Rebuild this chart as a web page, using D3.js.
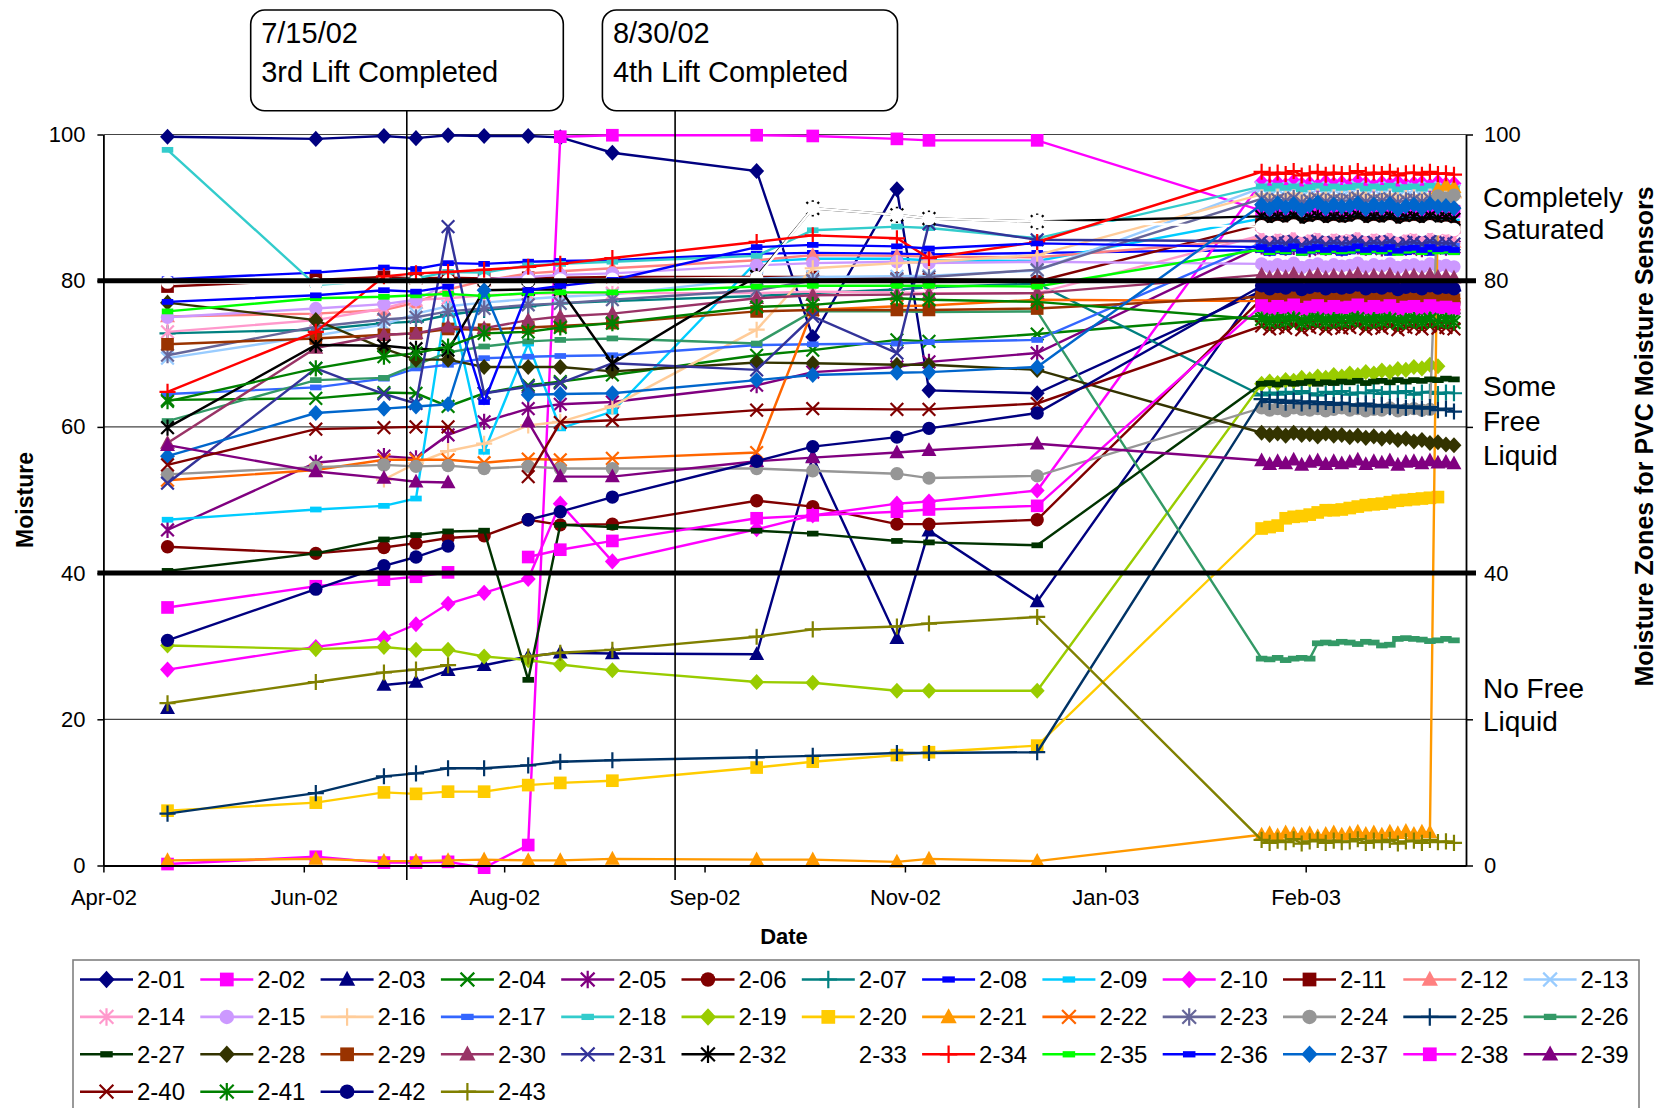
<!DOCTYPE html>
<html>
<head>
<meta charset="utf-8">
<script src="https://cdn.jsdelivr.net/npm/d3@7/dist/d3.min.js"></script>
<style>
  body { margin: 0; background: #fff; }
  text { font-family: "Liberation Sans", Arial, sans-serif; }
</style>
</head>
<body>
<svg id="chart" width="1657" height="1108"></svg>
<script>
// reading dates, 2002
var dates = ["2002-05-14","2002-06-20","2002-07-07","2002-07-15","2002-07-23","2002-08-01","2002-08-12",
             "2002-08-20","2002-09-02","2002-10-08","2002-10-22","2002-11-12","2002-11-20","2002-12-17"];
// logger readings, early 2003
var denseDates = ["2003-02-11","2003-02-13","2003-02-15","2003-02-17","2003-02-19","2003-02-21","2003-02-23",
                  "2003-02-25","2003-02-27","2003-03-01","2003-03-03","2003-03-05","2003-03-07","2003-03-09",
                  "2003-03-11","2003-03-13","2003-03-15","2003-03-17","2003-03-19","2003-03-21","2003-03-23",
                  "2003-03-25","2003-03-27","2003-03-29","2003-03-31"];

var sensors = ["2-01","2-02","2-03","2-04","2-05","2-06","2-07","2-08","2-09","2-10","2-11","2-12","2-13",
               "2-14","2-15","2-16","2-17","2-18","2-19","2-20","2-21","2-22","2-23","2-24","2-25","2-26",
               "2-27","2-28","2-29","2-30","2-31","2-32","2-33","2-34","2-35","2-36","2-37","2-38","2-39",
               "2-40","2-41","2-42","2-43"];

var early = [
  [99.7,99.4,99.8,99.5,99.9,99.8,99.8,99.6,97.5,95.0,72.3,92.5,65.0,64.6],
  [0.2,1.2,0.4,0.4,0.5,-0.3,2.8,99.7,99.9,99.9,99.8,99.4,99.2,99.2],
  [21.5,null,24.7,25.1,26.7,27.4,28.6,29.1,29.0,28.9,55.9,31.1,45.8,36.1],
  [63.7,63.9,64.7,64.6,62.8,64.6,65.7,66.2,67.1,69.8,70.5,71.9,71.7,72.7],
  [45.9,55.1,56.0,55.7,58.9,60.7,62.5,63.1,63.4,65.7,67.5,68.2,68.9,70.1],
  [43.6,42.7,43.5,44.1,44.8,45.1,47.3,46.6,46.7,49.9,49.1,46.7,46.7,47.3],
  [72.8,73.3,74.2,74.4,75.3,76.0,76.5,76.9,77.2,77.9,78.3,78.8,79.1,79.6],
  [80.2,81.1,81.8,81.6,82.4,82.3,82.6,82.7,82.8,83.7,83.8,83.7,83.6,83.8],
  [47.3,48.7,49.2,50.2,78.5,56.6,71.4,59.8,62.1,82.6,83.0,83.0,82.8,82.7],
  [26.8,29.9,31.1,33.0,35.8,37.3,39.2,49.5,41.6,46.0,47.9,49.5,49.8,51.3],
  [79.2,80.1,80.5,80.3,80.4,80.3,80.4,80.4,80.5,80.5,80.5,80.3,80.2,79.9],
  [75.1,75.5,76.0,77.0,78.8,80.0,81.0,81.3,81.7,82.8,83.5,83.4,83.3,83.2],
  [69.4,72.5,74.0,75.5,76.5,77.0,77.5,77.8,78.1,80.3,80.5,80.6,80.7,81.4],
  [73.0,74.6,76.2,77.4,77.6,78.0,78.2,78.3,78.3,78.3,78.5,78.4,78.3,78.3],
  [75.0,76.2,76.8,77.4,79.6,80.2,80.5,80.8,81.0,82.1,82.4,82.6,82.4,82.6],
  [null,null,52.8,55.0,56.7,57.7,60.2,60.7,62.8,73.3,81.7,82.4,82.6,83.5],
  [64.5,65.4,66.6,68.0,68.5,69.4,69.6,69.7,69.8,71.2,71.3,71.4,71.6,71.9],
  [97.9,79.4,80.1,80.3,81.2,81.1,82.1,82.3,82.6,83.4,86.9,87.4,87.2,85.8],
  [30.1,29.6,29.9,29.5,29.5,28.6,28.1,27.5,26.7,25.1,25.0,23.9,23.9,23.9],
  [7.5,8.6,10.0,9.8,10.1,10.1,11.0,11.3,11.6,13.4,14.2,15.1,15.5,16.4],
  [0.7,0.9,0.6,0.6,0.7,0.8,0.7,0.7,0.9,0.8,0.8,0.5,0.9,0.6],
  [52.7,54.1,55.5,55.5,55.5,55.1,55.6,55.5,55.7,56.5,76.0,76.5,76.6,77.4],
  [69.8,73.7,74.7,75.0,75.8,76.2,76.7,76.9,77.4,78.7,80.0,80.2,80.5,81.5],
  [53.5,54.5,54.8,54.6,54.7,54.3,54.6,54.3,54.3,54.3,54.0,53.6,53.0,53.3],
  [7.1,9.9,12.2,12.6,13.3,13.3,13.7,14.2,14.4,14.8,15.0,15.4,15.4,15.5],
  [60.8,66.4,66.7,68.5,70.2,71.0,71.7,71.9,72.1,71.4,75.8,75.8,75.7,75.8],
  [40.3,42.7,44.6,45.2,45.7,45.8,25.4,46.6,46.3,45.8,45.4,44.4,44.2,43.8],
  [77.0,74.6,70.7,69.2,69.2,68.2,68.2,68.2,67.6,68.8,68.7,68.5,68.5,67.8],
  [71.3,72.1,72.6,72.8,73.4,73.3,73.6,73.8,74.2,75.8,76.0,76.0,76.0,76.2],
  [57.8,70.8,72.6,72.8,73.7,73.5,74.6,75.1,75.5,77.6,78.0,78.1,78.2,78.3],
  [52.3,68.0,64.5,63.2,87.4,64.6,65.5,66.0,68.7,67.8,75.1,70.1,87.8,85.6],
  [59.9,71.2,71.1,70.7,70.5,78.7,78.8,78.8,68.7,80.6,89.9,89.0,88.5,88.1],
  [79.8,79.6,79.8,79.9,80.0,80.0,80.0,80.1,80.2,80.4,89.9,89.0,88.5,88.1],
  [64.8,73.0,80.6,81.0,81.2,81.5,81.9,82.3,83.1,85.3,86.2,85.8,83.1,85.3],
  [75.8,77.6,77.8,78.0,78.2,77.9,78.3,78.4,78.4,79.2,79.3,79.3,79.3,79.2],
  [77.1,78.0,78.7,78.5,79.2,63.4,78.7,79.3,80.1,84.6,84.9,84.7,84.4,85.1],
  [56.0,61.9,62.5,62.8,63.1,78.7,64.4,64.5,64.6,66.4,67.1,67.4,67.5,68.2],
  [35.3,38.2,39.1,39.5,40.1,null,42.2,43.2,44.4,47.5,47.9,48.4,48.7,49.2],
  [57.5,53.9,53.0,52.5,52.4,null,60.7,53.2,53.2,55.3,55.8,56.5,56.8,57.7],
  [54.8,59.7,59.9,60.0,60.0,null,53.2,60.6,60.9,62.3,62.5,62.4,62.4,63.2],
  [63.5,68.0,69.6,70.1,71.0,72.8,73.0,73.6,74.2,76.4,76.7,77.6,77.4,77.1],
  [30.8,37.8,41.0,42.2,43.7,null,47.3,48.4,50.4,55.3,57.3,58.6,59.8,61.9],
  [22.2,25.1,26.4,26.8,27.4,null,28.6,29.1,29.5,31.3,32.3,32.7,33.1,34.0]
];

var late = [
  [78.6,78.9,78.7,79.0,78.8,78.5,78.9,79.1,78.7,78.8,79.0,78.6,78.9,78.8,79.1,78.7,78.9,78.6,79.0,78.8,78.7,79.0,78.9,78.8,78.7],
  [89.6,89.4,89.7,89.3,89.5,89.8,89.4,89.6,89.3,89.5,89.7,89.4,89.6,89.5,89.3,89.7,89.4,89.6,89.5,89.8,89.4,89.5,89.6,89.3,89.5],
  [79.4,79.1,79.3,79.5,79.2,79.4,79.0,79.3,79.5,79.2,79.4,79.1,79.3,79.5,79.2,79.3,79.0,79.4,79.2,79.5,79.3,79.1,79.4,79.2,79.3],
  [75.2,74.8,75.1,74.9,75.3,74.7,75.0,75.2,74.8,75.1,74.9,75.0,75.3,74.8,75.1,74.9,75.2,74.7,75.0,75.1,74.8,75.2,74.9,75.0,74.8],
  [84.7,84.4,84.8,84.5,84.6,84.9,84.3,84.7,84.5,84.8,84.4,84.6,84.7,84.5,84.9,84.4,84.6,84.8,84.5,84.7,84.3,84.6,84.8,84.5,84.6],
  [77.5,77.1,77.4,77.2,77.6,77.0,77.3,77.5,77.1,77.4,77.2,77.3,77.6,77.1,77.4,77.2,77.5,77.0,77.3,77.4,77.1,77.5,77.2,77.3,77.1],
  [64.3,64.7,64.4,64.8,64.5,64.9,64.6,64.3,64.8,64.5,64.9,64.4,64.7,64.6,65.0,64.5,64.8,64.6,64.9,64.4,64.7,64.8,64.5,64.7,64.6],
  [84.2,83.8,84.1,83.9,84.3,83.8,84.0,84.2,83.9,84.1,83.8,84.0,84.2,83.9,84.1,84.0,83.8,84.2,83.9,84.1,84.0,83.8,84.2,84.0,83.9],
  [88.5,88.1,88.4,88.2,88.6,88.0,88.3,88.5,88.1,88.4,88.2,88.3,88.6,88.1,88.4,88.2,88.5,88.0,88.3,88.4,88.1,88.5,88.2,88.3,88.1],
  [93.5,93.0,93.4,93.1,93.6,93.2,93.3,93.0,93.5,93.2,93.4,93.1,93.6,93.3,93.0,93.4,93.2,93.5,93.1,93.3,93.4,93.0,93.5,93.2,93.3],
  [87.7,87.3,87.6,87.4,87.8,87.2,87.5,87.7,87.3,87.6,87.4,87.5,87.8,87.3,87.6,87.4,87.7,87.2,87.5,87.6,87.3,87.7,87.4,87.5,87.3],
  [85.7,85.3,85.6,85.4,85.8,85.2,85.5,85.7,85.3,85.6,85.4,85.5,85.8,85.3,85.6,85.4,85.7,85.2,85.5,85.6,85.3,85.7,85.4,85.5,85.3],
  [92.7,92.2,92.6,92.3,92.8,92.1,92.5,92.7,92.3,92.6,92.2,92.5,92.8,92.3,92.6,92.4,92.7,92.2,92.5,92.6,92.3,92.7,92.4,92.5,92.3],
  [86.2,85.8,86.1,85.9,86.3,85.7,86.0,86.2,85.8,86.1,85.9,86.0,86.3,85.8,86.1,85.9,86.2,85.7,86.0,86.1,85.8,86.2,85.9,86.0,85.8],
  [82.3,81.9,82.2,82.0,82.4,81.8,82.1,82.3,81.9,82.2,82.0,82.1,82.4,81.9,82.2,82.0,82.3,81.8,82.1,82.2,81.9,82.3,82.0,82.1,81.9],
  [91.8,91.4,91.7,91.5,91.9,91.3,91.6,91.8,91.4,91.7,91.5,91.6,91.9,91.4,91.7,91.5,91.8,91.3,91.6,91.7,91.4,91.8,91.5,91.6,91.4],
  [85.2,84.8,85.1,84.9,85.3,84.7,85.0,85.2,84.8,85.1,84.9,85.0,85.3,84.8,85.1,84.9,85.2,84.7,85.0,85.1,84.8,85.2,84.9,85.0,84.8],
  [92.9,92.6,93.0,92.7,92.9,92.5,92.8,93.0,92.6,92.9,92.7,92.8,93.0,92.6,92.9,92.7,93.0,92.5,92.8,92.9,92.6,93.0,92.7,92.8,92.6],
  [65.9,66.2,66.0,66.4,66.3,66.7,66.5,66.9,66.7,67.1,66.9,67.3,67.1,67.5,67.3,67.7,67.5,67.9,67.8,68.2,68.0,68.5,68.3,null,null],
  [46.1,46.3,46.5,47.5,47.7,47.8,48.0,48.3,48.6,48.6,48.7,48.9,49.1,49.3,49.4,49.5,49.7,49.9,50.0,50.1,50.2,50.3,50.4,null,null],
  [4.2,4.4,4.1,4.5,4.3,4.2,4.4,4.0,4.3,4.5,4.2,4.4,4.6,4.3,4.5,4.2,4.6,4.4,4.7,4.3,4.6,4.5,92.6,93.1,92.8],
  [77.2,76.8,77.1,76.9,77.3,76.7,77.0,77.2,76.8,77.1,76.9,77.0,77.3,76.8,77.1,76.9,77.2,76.7,77.0,77.1,76.8,77.2,76.9,77.0,76.8],
  [91.2,90.8,91.1,90.9,91.3,90.7,91.0,91.2,90.8,91.1,90.9,91.0,91.3,90.8,91.1,90.9,91.2,90.7,91.0,91.1,90.8,91.2,90.9,91.0,90.8],
  [62.6,62.3,62.5,62.2,62.6,62.4,62.3,62.5,62.2,62.4,62.6,62.3,62.5,62.2,62.4,62.3,62.6,62.2,62.4,62.5,62.3,62.4,91.6,91.3,91.7],
  [63.8,63.4,63.7,63.3,63.6,63.2,63.5,63.1,63.4,63.0,63.3,63.1,62.9,63.2,62.8,63.0,62.7,62.9,62.6,62.8,62.5,62.7,62.3,62.5,62.1],
  [28.3,28.2,28.4,28.1,28.3,28.4,28.3,30.4,30.5,30.4,30.6,30.5,30.3,30.6,30.5,30.1,30.2,31.0,31.1,31.0,30.9,30.7,30.8,31.0,30.8],
  [65.9,66.0,65.8,66.1,65.9,66.0,66.2,65.9,66.1,66.0,66.2,66.1,66.3,66.0,66.2,66.3,66.1,66.4,66.2,66.4,66.3,66.5,66.4,66.6,66.5],
  [59.2,58.9,59.1,58.8,59.2,58.9,59.0,58.7,59.1,58.8,58.9,58.6,58.8,58.5,58.7,58.4,58.6,58.2,58.4,58.0,58.2,57.8,57.9,57.6,57.5],
  [77.8,77.4,77.7,77.5,77.9,77.3,77.6,77.8,77.4,77.7,77.5,77.6,77.9,77.4,77.7,77.5,77.8,77.3,77.6,77.7,77.4,77.8,77.5,77.6,77.4],
  [80.8,80.4,80.7,80.5,80.9,80.3,80.6,80.8,80.4,80.7,80.5,80.6,80.9,80.4,80.7,80.5,80.8,80.3,80.6,80.7,80.4,80.8,80.5,80.6,80.4],
  [85.4,85.0,85.3,85.1,85.5,84.9,85.2,85.4,85.0,85.3,85.1,85.2,85.5,85.0,85.3,85.1,85.4,84.9,85.2,85.3,85.0,85.4,85.1,85.2,85.0],
  [88.8,88.4,88.7,88.5,88.9,88.3,88.6,88.8,88.4,88.7,88.5,88.6,88.9,88.4,88.7,88.5,88.8,88.3,88.6,88.7,88.4,88.8,88.5,88.6,88.4],
  [87.4,87.0,87.3,87.1,87.5,86.9,87.2,87.4,87.0,87.3,87.1,87.2,87.5,87.0,87.3,87.1,87.4,86.9,87.2,87.3,87.0,87.4,87.1,87.2,87.0],
  [94.9,94.5,94.8,94.6,95.0,94.4,94.7,94.9,94.5,94.8,94.6,94.7,95.0,94.5,94.8,94.6,94.9,94.4,94.7,94.8,94.5,94.9,94.6,94.7,94.5],
  [84.3,83.9,84.2,84.0,84.4,83.8,84.1,84.3,83.9,84.2,84.0,84.1,84.4,83.9,84.2,84.0,84.3,83.8,84.1,84.2,83.9,84.3,84.0,84.1,83.9],
  [84.6,84.2,84.5,84.3,84.7,84.1,84.4,84.6,84.2,84.5,84.3,84.4,84.7,84.2,84.5,84.3,84.6,84.1,84.4,84.5,84.2,84.6,84.3,84.4,84.2],
  [90.4,89.8,90.6,90.0,90.5,89.7,90.3,90.7,89.9,90.4,90.1,90.2,90.6,89.8,90.4,90.0,90.5,89.7,90.2,90.4,89.9,90.5,90.1,90.2,89.9],
  [76.6,76.2,76.5,76.3,76.7,76.1,76.4,76.6,76.2,76.5,76.3,76.4,76.7,76.2,76.5,76.3,76.6,76.1,76.4,76.5,76.2,76.6,76.3,76.4,76.2],
  [55.4,54.9,55.3,55.0,55.5,54.8,55.2,55.4,54.9,55.3,55.0,55.2,55.5,54.9,55.3,55.1,55.4,54.8,55.2,55.3,55.0,55.4,55.1,55.2,55.0],
  [73.8,73.4,73.7,73.5,73.9,73.3,73.6,73.8,73.4,73.7,73.5,73.6,73.9,73.4,73.7,73.5,73.8,73.3,73.6,73.7,73.4,73.8,73.5,73.6,73.4],
  [74.7,74.3,74.6,74.4,74.8,74.2,74.5,74.7,74.3,74.6,74.4,74.5,74.8,74.3,74.6,74.4,74.7,74.2,74.5,74.6,74.3,74.7,74.4,74.5,74.3],
  [79.3,78.9,79.2,79.0,79.4,78.8,79.1,79.3,78.9,79.2,79.0,79.1,79.4,78.9,79.2,79.0,79.3,78.8,79.1,79.2,78.9,79.3,79.0,79.1,78.9],
  [3.5,3.1,3.4,3.2,3.6,3.0,3.3,3.5,3.1,3.4,3.2,3.3,3.6,3.1,3.4,3.2,3.5,3.0,3.3,3.4,3.1,3.5,3.2,3.3,3.1]
];

var colors = ["#000080","#FF00FF","#000080","#008000","#800080","#800000","#008080","#0000FF","#00CCFF","#FF00FF",
              "#800000","#FF8080","#99CCFF","#FF99CC","#CC99FF","#FFCC99","#3366FF","#33CCCC","#99CC00","#FFCC00",
              "#FF9900","#FF6600","#666699","#969696","#003366","#339966","#003300","#333300","#993300","#993366",
              "#333399","#000000","#FFFFFF","#FF0000","#00FF00","#0000FF","#0066CC","#FF00FF","#800080","#800000",
              "#008000","#000080","#808000"];
var shapes = ["diamond","square","triangle","x","star","circle","plus","dash","dash","diamond",
              "square","triangle","x","star","circle","plus","dash","dash","diamond","square",
              "triangle","x","star","circle","plus","dash","dash","diamond","square","triangle",
              "x","star","circle","plus","dash","dash","diamond","square","triangle","x",
              "star","circle","plus"];

var yTicks = [0, 20, 40, 60, 80, 100];
var rightLabels = [0, 40, 80, 100];
var xTicks = ["2002-04-28","2002-06-17","2002-08-06","2002-09-25","2002-11-14","2003-01-03","2003-02-22"];
var zoneLines = [40, 80];

var parse = d3.timeParse("%Y-%m-%d");
var svg = d3.select("#chart");

var plotL = 103.4, plotR = 1466, plotT = 134.5, plotB = 865.5;
var x = d3.scaleTime().domain([parse("2002-04-28"), parse("2003-04-03")]).range([plotL, plotR]);
var y = d3.scaleLinear().domain([0, 100]).range([plotB, plotT]);

// grid
svg.append("g").selectAll("line").data([20, 60, 100]).join("line")
  .attr("x1", plotL).attr("x2", plotR)
  .attr("y1", d => y(d)).attr("y2", d => y(d))
  .attr("stroke", "#444").attr("stroke-width", 1.2);

function marker(g, shape, color, cx, cy, k) {
  k = k || 1;
  if (shape === "diamond") {
    g.append("path").attr("d", "M" + cx + "," + (cy - 7 * k) + "L" + (cx + 6.5 * k) + "," + cy + "L" + cx + "," + (cy + 7 * k) + "L" + (cx - 6.5 * k) + "," + cy + "Z")
      .attr("fill", color);
  } else if (shape === "square") {
    g.append("rect").attr("x", cx - 5.5 * k).attr("y", cy - 5.5 * k).attr("width", 11 * k).attr("height", 11 * k).attr("fill", color);
  } else if (shape === "triangle") {
    g.append("path").attr("d", "M" + cx + "," + (cy - 7 * k) + "L" + (cx + 6.5 * k) + "," + (cy + 5 * k) + "L" + (cx - 6.5 * k) + "," + (cy + 5 * k) + "Z")
      .attr("fill", color);
  } else if (shape === "circle") {
    g.append("circle").attr("cx", cx).attr("cy", cy).attr("r", 5.8 * k).attr("fill", color);
  } else if (shape === "dash") {
    g.append("rect").attr("x", cx - 5 * k).attr("y", cy - 2.5 * k).attr("width", 10 * k).attr("height", 5 * k).attr("fill", color);
  } else {
    var a = 5.5 * k, b = 7 * k, p = "";
    if (shape === "x" || shape === "star") p += "M" + (cx - a) + "," + (cy - a) + "L" + (cx + a) + "," + (cy + a) + "M" + (cx - a) + "," + (cy + a) + "L" + (cx + a) + "," + (cy - a);
    if (shape === "star") p += "M" + cx + "," + (cy - b) + "L" + cx + "," + (cy + b);
    if (shape === "plus") p += "M" + (cx - b) + "," + cy + "L" + (cx + b) + "," + cy + "M" + cx + "," + (cy - b) + "L" + cx + "," + (cy + b);
    g.append("path").attr("d", p).attr("stroke", color).attr("stroke-width", 2.2).attr("fill", "none");
  }
}

var allDates = dates.concat(denseDates).map(parse);
var line = d3.line().defined(d => d.v !== null).x(d => x(d.t)).y(d => y(d.v));

var plot = svg.append("g");
sensors.forEach(function (id, i) {
  var pts = early[i].concat(late[i]).map((v, j) => ({ t: allDates[j], v: v }));
  var g = plot.append("g");
  g.append("path").attr("d", line(pts)).attr("fill", "none")
    .attr("stroke", colors[i]).attr("stroke-width", 2.4);
  pts.filter(d => d.v !== null).forEach(d => marker(g, shapes[i], colors[i], x(d.t), y(d.v), 1.15));
});

// moisture zone boundaries
svg.append("g").selectAll("line").data(zoneLines).join("line")
  .attr("x1", plotL - 6).attr("x2", plotR + 10)
  .attr("y1", d => y(d)).attr("y2", d => y(d))
  .attr("stroke", "#000").attr("stroke-width", 5);

// axes
var fontTick = "22px";
var axL = svg.append("g").attr("transform", "translate(" + plotL + ",0)")
  .call(d3.axisLeft(y).tickValues(yTicks).tickSize(6).tickSizeOuter(0).tickPadding(12));
var axR = svg.append("g").attr("transform", "translate(" + plotR + ",0)")
  .call(d3.axisRight(y).tickValues(yTicks).tickSize(7).tickSizeOuter(0).tickPadding(11)
    .tickFormat(d => rightLabels.indexOf(d) >= 0 ? d : ""));
var axB = svg.append("g").attr("transform", "translate(0," + plotB + ")")
  .call(d3.axisBottom(x).tickValues(xTicks.map(parse)).tickFormat(d3.timeFormat("%b-%y"))
    .tickSize(7).tickSizeOuter(0).tickPadding(17));
[axL, axR, axB].forEach(function (a) {
  a.selectAll("text").attr("font-size", fontTick).attr("fill", "#000")
    .attr("font-family", "'Liberation Sans', Arial, sans-serif");
  a.selectAll("line").attr("stroke", "#000").attr("stroke-width", 1.5);
  a.select(".domain").attr("stroke", "#000").attr("stroke-width", 1.8);
});
axB.select(".domain").attr("stroke-width", 2.2);

// titles
svg.append("text").attr("transform", "translate(32.5,500) rotate(-90)").attr("text-anchor", "middle")
  .attr("font-size", "23px").attr("font-weight", "bold").text("Moisture");
svg.append("text").attr("transform", "translate(1653,436.5) rotate(-90)").attr("text-anchor", "middle")
  .attr("font-size", "25px").attr("font-weight", "bold").text("Moisture Zones for PVC Moisture Sensors");
svg.append("text").attr("x", 784).attr("y", 944).attr("text-anchor", "middle")
  .attr("font-size", "22px").attr("font-weight", "bold").text("Date");

// zone names
var zoneText = [["Completely", 206.5], ["Saturated", 239], ["Some", 396], ["Free", 431], ["Liquid", 465],
                ["No Free", 698], ["Liquid", 731]];
svg.append("g").selectAll("text").data(zoneText).join("text")
  .attr("x", 1483).attr("y", d => d[1]).attr("font-size", "28px").text(d => d[0]);

// callouts
var callouts = [
  { x: 250.7, w: 312.6, lx: 406.8, t1: "7/15/02", t2: "3rd Lift Completed" },
  { x: 602.4, w: 295.1, lx: 675.1, t1: "8/30/02", t2: "4th Lift Completed" }
];
callouts.forEach(function (c) {
  svg.append("line").attr("x1", c.lx).attr("x2", c.lx).attr("y1", 110).attr("y2", 880)
    .attr("stroke", "#000").attr("stroke-width", 1.6);
  svg.append("rect").attr("x", c.x).attr("y", 10).attr("width", c.w).attr("height", 100.7).attr("rx", 14)
    .attr("fill", "#fff").attr("stroke", "#000").attr("stroke-width", 1.6);
  svg.append("text").attr("x", c.x + 10.5).attr("y", 43.3).attr("font-size", "29px").text(c.t1);
  svg.append("text").attr("x", c.x + 10.5).attr("y", 81.7).attr("font-size", "29px").text(c.t2);
});

// legend
var lg = svg.append("g");
lg.append("rect").attr("x", 73).attr("y", 960).attr("width", 1566).attr("height", 170)
  .attr("fill", "#fff").attr("stroke", "#808080").attr("stroke-width", 1.6);
sensors.forEach(function (id, i) {
  var col = i % 13, row = Math.floor(i / 13);
  var lx = 80 + col * 120.3, ly = 979.5 + row * 37.4;
  var g = lg.append("g");
  g.append("line").attr("x1", lx).attr("x2", lx + 53).attr("y1", ly).attr("y2", ly)
    .attr("stroke", colors[i]).attr("stroke-width", 2.6);
  marker(g, shapes[i], colors[i], lx + 26.5, ly, 1.25);
  g.append("text").attr("x", lx + 57).attr("y", ly + 8.5).attr("font-size", "24px").text(id);
});
</script>
</body>
</html>
